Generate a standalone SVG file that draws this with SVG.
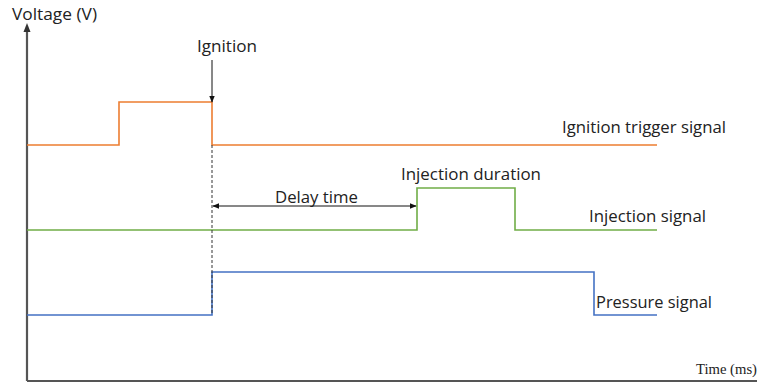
<svg xmlns="http://www.w3.org/2000/svg" width="758" height="385" viewBox="0 0 758 385">
<style>
.t{font-family:"Open Sans","Liberation Sans",sans-serif;font-size:16.5px;fill:#222}
.s{fill:none;stroke-width:1.6}
.ax{stroke:#555;stroke-width:2.2;fill:none}
.ar{stroke:#111;stroke-width:1;fill:none}
</style>
<defs>
<marker id="ah" viewBox="0 0 10 10" refX="9" refY="5" markerWidth="7" markerHeight="7" orient="auto-start-reverse" markerUnits="userSpaceOnUse"><path d="M0,1 L10,5 L0,9 z" fill="#111"/></marker>
</defs>
<rect width="758" height="385" fill="#fff"/>
<g id="axes">
<line class="ax" x1="27" y1="381" x2="757" y2="381"/>
<line class="ax" x1="27" y1="381" x2="27" y2="30"/>
<path d="M23.5,32 L27,23 L30.5,32 z" fill="#333"/>
<text id="ylabel" class="t" x="12" y="20" textLength="85" lengthAdjust="spacingAndGlyphs">Voltage (V)</text>
<text id="xlabel" x="696" y="374" font-family="Liberation Serif,serif" font-size="15" fill="#222" textLength="61" lengthAdjust="spacingAndGlyphs">Time (ms)</text>
</g>
<g id="ignition-signal">
<polyline class="s" stroke="#ED7D31" points="27,145 119,145 119,102 212,102 212,145 657,145"/>
<text class="t" x="562" y="133" textLength="164" lengthAdjust="spacingAndGlyphs">Ignition trigger signal</text>
</g>
<g id="injection-signal">
<polyline class="s" stroke="#70AD47" points="27,230 417,230 417,188 515,188 515,230 657,230"/>
<text class="t" x="589" y="222" textLength="117" lengthAdjust="spacingAndGlyphs">Injection signal</text>
<text class="t" x="401" y="180" textLength="140" lengthAdjust="spacingAndGlyphs">Injection duration</text>
</g>
<g id="pressure-signal">
<polyline class="s" stroke="#4472C4" points="27,315 212,315 212,272 594,272 594,315 657,315"/>
<text class="t" x="596" y="308" textLength="116" lengthAdjust="spacingAndGlyphs">Pressure signal</text>
</g>
<g id="connectors">
<line class="ar" x1="212" y1="60" x2="212" y2="102" marker-end="url(#ah)"/>
<line x1="212" y1="145" x2="212" y2="315" stroke="#333" stroke-width="1" stroke-dasharray="3,2"/>
<line class="ar" x1="213" y1="206" x2="416" y2="206" marker-start="url(#ah)" marker-end="url(#ah)"/>
<text class="t" x="197" y="52" textLength="60" lengthAdjust="spacingAndGlyphs">Ignition</text>
<text class="t" x="275" y="203" textLength="83" lengthAdjust="spacingAndGlyphs">Delay time</text>
</g>
</svg>
